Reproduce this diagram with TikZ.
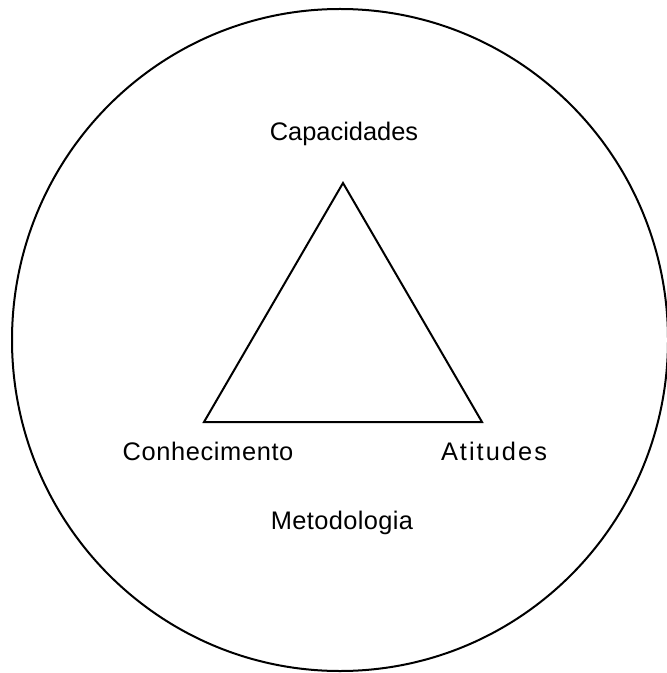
\documentclass[tikz,border=0pt]{standalone}
\usepackage{fontspec}
\setmainfont{Liberation Sans}
\usepackage{tikz}
\tikzset{labeltext/.style={inner sep=0pt,font=\fontsize{12.7}{15}\selectfont}}
\tikzset{spacedtext/.style={inner sep=0pt,font=\fontsize{12.7}{15}\selectfont\addfontfeatures{LetterSpace=#1}}}
\tikzset{outline/.style={draw=black,line width=1pt}}

\begin{document}
\begin{tikzpicture}[x=0.5pt,y=-0.5pt]
\useasboundingbox (0,0) rectangle (667,673);

% Outer circle
\draw[outline] (340,340) ellipse (328 and 331);

% Triangle corners
\coordinate (top) at (343,183);
\coordinate (left) at (204,422);
\coordinate (right) at (482,422);

% Triangle
\draw[outline,line join=miter] (top) -- (left) -- (right) -- cycle;

% Labels
\node[labeltext] at (344,134) (capacidades) {Capacidades};
\node[spacedtext=2.5] at (208,451) (conhecimento) {Conhecimento};
\node[spacedtext=8] at (494,451) (atitudes) {Atitudes};
\node[spacedtext=1.5] at (342,523) (metodologia) {Metodologia};

\end{tikzpicture}
\end{document}
